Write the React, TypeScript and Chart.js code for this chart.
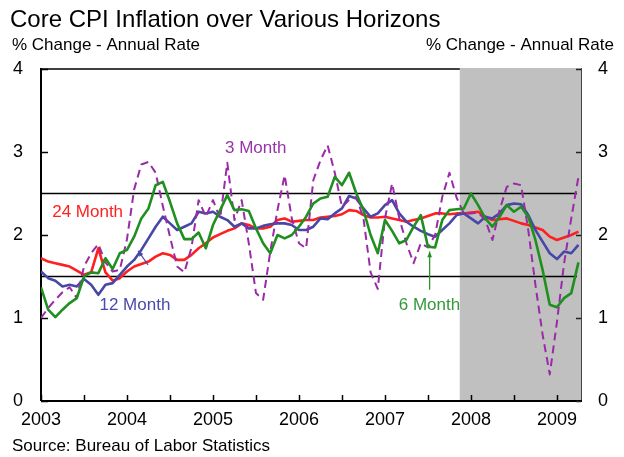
import React, { useEffect, useRef } from "react";
import { Chart, registerables } from "chart.js";

Chart.register(...registerables);

// ---- data (monthly, Jan 2003 - Apr 2009) ----
const startYear = 2003;
const monthCount = 76;
const months = Array.from({ length: monthCount }, (_, i) => startYear + i / 12);

const yearTicks = [2003, 2004, 2005, 2006, 2007, 2008, 2009];
const halfYearTicks = [2003.5, 2004.5, 2005.5, 2006.5, 2007.5, 2008.5];
const valueTicks = [0, 1, 2, 3, 4];
const comfortZone = [1.5, 2.5];
const recessionStart = 2007.87;
const axisEnd = 2009.28;

const threeMonth = [
  1.0, 1.12, 1.22, 1.31, 1.37, 1.24, 1.62, 1.78, 1.89, 1.67, 1.56, 1.58,
  1.95, 2.55, 2.85, 2.88, 2.75, 2.35, 1.98, 1.62, 1.55, 1.85, 2.42, 2.22,
  2.42, 2.2, 2.87, 2.18, 2.42, 1.9, 1.3, 1.22, 1.8, 2.3, 2.72, 2.2,
  1.9, 1.84, 2.66, 2.9, 3.08, 2.75, 2.34, 2.42, 2.46, 2.2, 1.55, 1.35,
  2.2, 2.62, 2.2, 1.9, 1.66, 1.9, 1.85, 2.0, 2.46, 2.75, 2.45, 2.26,
  2.26, 2.27, 2.18, 1.94, 2.3, 2.58, 2.62, 2.6, 2.06, 1.4, 0.8, 0.32,
  0.95, 1.66, 2.2, 2.7,
];

const sixMonth = [
  1.37, 1.1, 1.01, 1.1, 1.18, 1.24, 1.5, 1.55, 1.54, 1.72, 1.59, 1.78,
  1.82, 1.98, 2.2, 2.32, 2.6, 2.64, 2.4, 2.14, 1.95, 1.95, 2.03, 1.84,
  2.12, 2.3, 2.48, 2.3, 2.31, 2.29, 2.08, 1.9, 1.78, 2.0, 1.96, 2.0,
  2.1, 2.22, 2.38, 2.44, 2.46, 2.7, 2.6, 2.75, 2.5, 2.3, 2.0, 1.78,
  2.18, 2.05, 1.9, 1.94, 2.1, 2.24, 1.86, 1.85, 2.18, 2.3, 2.31, 2.32,
  2.5, 2.36, 2.2, 2.1, 2.22, 2.36, 2.28, 2.34, 2.22, 1.94, 1.58, 1.16,
  1.13, 1.24, 1.3, 1.67,
];

const twelveMonth = [
  1.56, 1.48, 1.45, 1.38, 1.4, 1.38, 1.47, 1.4, 1.28, 1.4, 1.42, 1.52,
  1.62, 1.7, 1.82, 1.96, 2.1, 2.22, 2.14, 2.06, 2.1, 2.14, 2.28, 2.26,
  2.28, 2.22, 2.18, 2.1, 2.14, 2.08, 2.08, 2.11, 2.13, 2.14, 2.14, 2.12,
  2.06, 2.06, 2.1, 2.2, 2.19, 2.26, 2.32, 2.47, 2.44, 2.32, 2.22, 2.26,
  2.36, 2.42, 2.26, 2.16, 2.1, 2.05, 2.01, 1.98, 2.06, 2.14, 2.24, 2.26,
  2.2, 2.14, 2.22, 2.2, 2.26, 2.36, 2.38, 2.37, 2.24, 2.06, 1.92, 1.78,
  1.71, 1.8, 1.78, 1.88,
];

const twentyFourMonth = [
  1.72, 1.68, 1.66, 1.64, 1.62, 1.57, 1.52, 1.55, 1.84, 1.55, 1.45, 1.48,
  1.56, 1.62, 1.65, 1.68, 1.74, 1.78, 1.76, 1.7, 1.7, 1.76, 1.84, 1.9,
  1.97, 2.01, 2.05, 2.08, 2.14, 2.12, 2.08, 2.08, 2.1, 2.18, 2.2, 2.16,
  2.17, 2.18, 2.18, 2.21, 2.22, 2.23, 2.25, 2.3, 2.29, 2.24, 2.21, 2.21,
  2.22, 2.2, 2.18, 2.16, 2.18, 2.2, 2.23, 2.26, 2.26, 2.25, 2.26, 2.26,
  2.27, 2.28, 2.22, 2.18, 2.19, 2.2, 2.17, 2.14, 2.12, 2.09, 2.06, 1.98,
  1.94, 1.97, 2.0, 2.04,
];

const FONT = "'Liberation Sans', Arial, Helvetica, sans-serif";
const RED = "#ff1f1f";
const BLUE = "#4747a8";
const GREEN = "#1f8f1f";
const PURPLE = "#9a2aa8";

const toPts = (vals: number[]) => vals.map((v, i) => ({ x: months[i], y: v }));

function arrow(ctx: CanvasRenderingContext2D, x1: number, y1: number, x2: number, y2: number, color: string) {
  ctx.save();
  ctx.strokeStyle = color;
  ctx.fillStyle = color;
  ctx.lineWidth = 1.2;
  ctx.beginPath();
  ctx.moveTo(x1, y1);
  ctx.lineTo(x2, y2);
  ctx.stroke();
  const a = Math.atan2(y2 - y1, x2 - x1);
  const h = 6;
  ctx.beginPath();
  ctx.moveTo(x2, y2);
  ctx.lineTo(x2 - h * Math.cos(a - 0.4), y2 - h * Math.sin(a - 0.4));
  ctx.lineTo(x2 - h * Math.cos(a + 0.4), y2 - h * Math.sin(a + 0.4));
  ctx.closePath();
  ctx.fill();
  ctx.restore();
}

const decorPlugin = {
  id: "decor",
  beforeDatasetsDraw(chart: any) {
    const ctx: CanvasRenderingContext2D = chart.ctx;
    const xs = chart.scales.x;
    const ys = chart.scales.y;
    const { left, right, top, bottom } = chart.chartArea;
    ctx.save();
    // top border
    ctx.strokeStyle = "#000";
    ctx.lineWidth = 1.5;
    ctx.beginPath();
    ctx.moveTo(left, top);
    ctx.lineTo(right, top);
    ctx.stroke();
    // recession shading
    const gx = xs.getPixelForValue(recessionStart);
    ctx.fillStyle = "#c0c0c0";
    ctx.fillRect(gx, top - 1, right - gx, bottom - top + 1);
    // comfort zone lines
    ctx.strokeStyle = "#000";
    ctx.lineWidth = 1.5;
    for (const v of comfortZone) {
      const y = ys.getPixelForValue(v);
      ctx.beginPath();
      ctx.moveTo(left, y);
      ctx.lineTo(right - 4, y);
      ctx.stroke();
    }
    // left axis
    ctx.lineWidth = 2;
    ctx.beginPath();
    ctx.moveTo(left, top - 1);
    ctx.lineTo(left, bottom);
    ctx.stroke();
    // right axis
    ctx.strokeStyle = "#444";
    ctx.lineWidth = 1;
    ctx.beginPath();
    ctx.moveTo(right + 0.5, top - 1);
    ctx.lineTo(right + 0.5, bottom);
    ctx.stroke();
    // bottom axis
    ctx.strokeStyle = "#000";
    ctx.lineWidth = 2;
    ctx.beginPath();
    ctx.moveTo(left, bottom);
    ctx.lineTo(right + 1, bottom);
    ctx.stroke();
    // x ticks
    ctx.lineWidth = 1.5;
    for (const v of [...yearTicks, ...halfYearTicks]) {
      const x = Math.round(xs.getPixelForValue(v)) + 0.5;
      ctx.beginPath();
      ctx.moveTo(x, bottom);
      ctx.lineTo(x, bottom - 6);
      ctx.stroke();
    }
    // y ticks
    for (const v of valueTicks) {
      const y = Math.round(ys.getPixelForValue(v)) + 0.5;
      ctx.strokeStyle = "#000";
      ctx.beginPath();
      ctx.moveTo(left, y);
      ctx.lineTo(left + 7, y);
      ctx.stroke();
      ctx.strokeStyle = "#222";
      ctx.beginPath();
      ctx.moveTo(right, y);
      ctx.lineTo(right - 5, y);
      ctx.stroke();
    }
    ctx.restore();
  },
  afterDraw(chart: any) {
    const ctx: CanvasRenderingContext2D = chart.ctx;
    const xs = chart.scales.x;
    const ys = chart.scales.y;
    const px = (v: number) => xs.getPixelForValue(v);
    const py = (v: number) => ys.getPixelForValue(v);
    ctx.save();
    ctx.textBaseline = "alphabetic";
    // title
    ctx.fillStyle = "#000";
    ctx.textAlign = "left";
    ctx.font = `24px ${FONT}`;
    ctx.fillText("Core CPI Inflation over Various Horizons", 10, 27);
    ctx.font = `17px ${FONT}`;
    ctx.fillText("% Change - Annual Rate", 12, 50);
    ctx.textAlign = "right";
    ctx.fillText("% Change - Annual Rate", 614, 50);
    ctx.textAlign = "left";
    ctx.fillText("Source: Bureau of Labor Statistics", 12, 451);
    // series labels
    ctx.font = `17px ${FONT}`;
    ctx.fillStyle = "#ff2020";
    ctx.fillText("24 Month", px(2003.13), py(2.22));
    ctx.fillStyle = "#9933aa";
    ctx.fillText("3 Month", px(2005.14), py(2.99));
    ctx.fillStyle = "#4a4aaa";
    ctx.fillText("12 Month", px(2003.68), py(1.10));
    ctx.fillStyle = "#33993a";
    ctx.fillText("6 Month", px(2007.16), py(1.10));
    // arrows
    arrow(ctx, px(2004.245), py(1.64), px(2004.13), py(1.81), BLUE);
    arrow(ctx, px(2007.52), py(1.34), px(2007.52), py(1.80), GREEN);
    ctx.restore();
  },
};

export default function App() {
  const ref = useRef<HTMLCanvasElement | null>(null);
  useEffect(() => {
    if (!ref.current) return;
    const axisFont = { family: FONT, size: 18 };
    const chart = new Chart(ref.current, {
      type: "line",
      data: {
        datasets: [
          { label: "6 Month", data: toPts(sixMonth), borderColor: GREEN, borderWidth: 2.6, pointRadius: 0, order: 0, yAxisID: "y" },
          { label: "3 Month", data: toPts(threeMonth), borderColor: PURPLE, borderWidth: 2, borderDash: [8, 5], pointRadius: 0, order: 1, yAxisID: "y" },
          { label: "12 Month", data: toPts(twelveMonth), borderColor: BLUE, borderWidth: 2.6, pointRadius: 0, order: 2, yAxisID: "y" },
          { label: "24 Month", data: toPts(twentyFourMonth), borderColor: RED, borderWidth: 2.6, pointRadius: 0, order: 3, yAxisID: "y" },
        ],
      },
      options: {
        responsive: false,
        animation: false,
        devicePixelRatio: 1,
        layout: { padding: { top: 69, left: 0, right: 0, bottom: 0 } },
        plugins: { legend: { display: false }, tooltip: { enabled: false }, title: { display: false } },
        elements: { line: { tension: 0, borderJoinStyle: "round", borderCapStyle: "butt" } },
        scales: {
          x: {
            type: "linear",
            min: startYear,
            max: axisEnd,
            grid: { display: false, drawTicks: false },
            border: { display: false },
            afterBuildTicks: (s: any) => {
              s.ticks = yearTicks.map((v) => ({ value: v }));
            },
            afterFit: (s: any) => {
              s.height = 56;
            },
            ticks: { autoSkip: false, maxRotation: 0, padding: 8, color: "#000", font: axisFont, callback: (v: any) => String(v) },
          },
          y: {
            position: "left",
            min: 0,
            max: 4,
            grid: { display: false, drawTicks: false },
            border: { display: false },
            afterBuildTicks: (s: any) => {
              s.ticks = valueTicks.map((v) => ({ value: v }));
            },
            afterFit: (s: any) => {
              s.width = 41;
            },
            ticks: { padding: 18, color: "#000", font: axisFont },
          },
          y2: {
            position: "right",
            display: true,
            min: 0,
            max: 4,
            grid: { display: false, drawTicks: false },
            border: { display: false },
            afterBuildTicks: (s: any) => {
              s.ticks = valueTicks.map((v) => ({ value: v }));
            },
            afterFit: (s: any) => {
              s.width = 43;
            },
            ticks: { padding: 17, color: "#000", font: axisFont },
          },
        },
      },
      plugins: [decorPlugin],
    } as any);
    return () => chart.destroy();
  }, []);
  return (
    <div style={{ position: "fixed", left: 0, top: 0, width: 624, height: 457, background: "#fff" }}>
      <canvas ref={ref} width={624} height={457} style={{ display: "block", width: 624, height: 457 }} />
    </div>
  );
}
